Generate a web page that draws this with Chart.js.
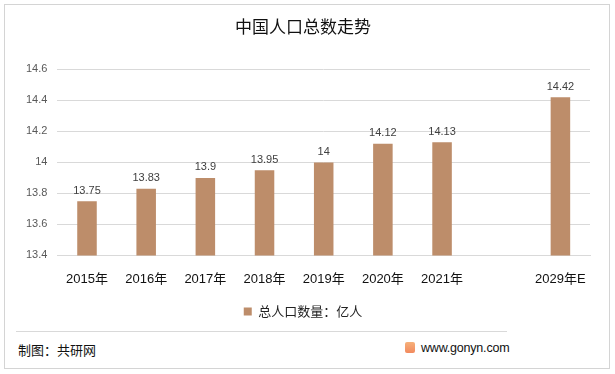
<!DOCTYPE html>
<html>
<head>
<meta charset="utf-8">
<script src="https://cdn.jsdelivr.net/npm/chart.js@4.4.0/dist/chart.umd.min.js"></script>
<style>
  body { margin: 0; background: #fff; font-family: "Noto Sans CJK SC", "Microsoft YaHei", sans-serif; }
  #wrap { position: relative; width: 615px; height: 374px; overflow: hidden; }
  #frame { position: absolute; left: 4px; top: 4px; width: 604px; height: 363px; border: 1px solid #d4d4d4; }
  #chart { position: absolute; left: 0; top: 0; }
  #sep { position: absolute; left: 16px; top: 331px; width: 491px; height: 1px; background: #d9d9d9; }
  #src { position: absolute; left: 18px; top: 340px; font-size: 13px; color: #111; }
  #site { position: absolute; left: 405px; top: 341px; font-size: 12.5px; color: #111; font-family: "Liberation Sans", Arial, sans-serif; letter-spacing: -0.2px; }
  #logo { display: inline-block; width: 10px; height: 11px; background: linear-gradient(#f6b07a, #f28a5e); border-radius: 2px; vertical-align: -1px; margin-right: 6px; }
</style>
</head>
<body>
<div id="wrap">
  <div id="frame"></div>
  <canvas id="chart" width="615" height="330"></canvas>
  <div id="sep"></div>
  <div id="src">制图：共研网</div>
  <div id="site"><span id="logo"></span>www.gonyn.com</div>
</div>
<script>
// 数据
const years = ['2015年', '2016年', '2017年', '2018年', '2019年', '2020年', '2021年', '', '2029年E'];
const population = [13.75, 13.83, 13.9, 13.95, 14, 14.12, 14.13, null, 14.42];
const labelText = ['13.75', '13.83', '13.9', '13.95', '14', '14.12', '14.13', '', '14.42'];

// 막대 위 값 표시
const valueLabels = {
    id: 'valueLabels',
    afterDatasetsDraw(chart) {
        const ctx = chart.ctx;
        const meta = chart.getDatasetMeta(0);
        ctx.save();
        ctx.font = '11px "Liberation Sans", Arial, sans-serif';
        ctx.fillStyle = '#404040';
        ctx.textAlign = 'center';
        ctx.textBaseline = 'bottom';
        meta.data.forEach((bar, i) => {
            if (population[i] == null) return;
            ctx.fillText(labelText[i], bar.x, bar.y - 5);
        });
        ctx.restore();
    }
};

new Chart(document.getElementById('chart'), {
    type: 'bar',
    data: {
        labels: years,
        datasets: [{
            label: '总人口数量：亿人',
            data: population,
            backgroundColor: '#BD8D6A',
            barPercentage: 0.55,
            categoryPercentage: 0.6
        }]
    },
    options: {
        responsive: false,
        animation: false,
        layout: { padding: { left: 16, right: 25, top: 5, bottom: 2 } },
        plugins: {
            title: {
                display: true,
                text: '中国人口总数走势',
                color: '#111',
                font: { size: 17, family: '"Noto Sans CJK SC", sans-serif', weight: 'normal' },
                padding: { top: 11, bottom: 33 }
            },
            legend: {
                position: 'bottom',
                labels: {
                    boxWidth: 8,
                    boxHeight: 8,
                    color: '#222',
                    font: { size: 13, family: '"Noto Sans CJK SC", sans-serif' },
                    padding: 10
                }
            },
            tooltip: { enabled: false }
        },
        scales: {
            x: {
                grid: { display: false },
                border: { color: '#d9d9d9' },
                ticks: {
                    color: '#111',
                    font: { size: 13, family: '"Liberation Sans", "Noto Sans CJK SC", sans-serif' },
                    maxRotation: 0,
                    autoSkip: false,
                    padding: 8
                }
            },
            y: {
                min: 13.4,
                max: 14.6,
                grid: { color: '#d9d9d9', drawTicks: false },
                border: { display: false },
                ticks: {
                    stepSize: 0.2,
                    color: '#595959',
                    padding: 10,
                    font: { size: 11, family: '"Liberation Sans", Arial, sans-serif' },
                    callback: v => String(Number(v.toFixed(1)))
                }
            }
        }
    },
    plugins: [valueLabels]
});
</script>
</body>
</html>
